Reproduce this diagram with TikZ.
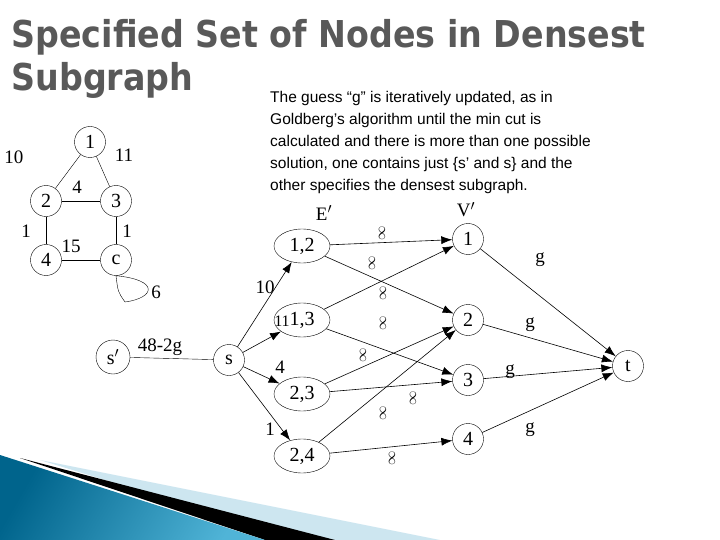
\documentclass[tikz,border=0pt]{standalone}
\usepackage{fontspec}
\setmainfont{Liberation Serif}
\newfontfamily\titlefont{DejaVu Sans Condensed Bold}
\newfontfamily\bodyfont{Liberation Sans}
\usetikzlibrary{arrows.meta,shapes.geometric}
\definecolor{tealA}{RGB}{0,100,140}
\definecolor{tealB}{RGB}{80,180,215}
\definecolor{paleB}{RGB}{205,230,240}
\begin{document}
\begin{tikzpicture}[x=1pt,y=-1pt,
  vtx/.style={draw,circle,inner sep=0pt,minimum size=31pt,font=\fontsize{20}{20}\selectfont},
  evtx/.style={draw,ellipse,inner sep=0pt,minimum width=56pt,minimum height=34pt,font=\fontsize{20}{20}\selectfont},
  lbl/.style={font=\fontsize{19}{19}\selectfont},
  inf/.style={rotate=90,font=\fontsize{15}{15}\selectfont},
  arr/.style={-{Latex[length=11pt,width=8pt]},semithick}]
\useasboundingbox (0,0) rectangle (720,540);
\fill[white] (0,0) rectangle (720,540);
% decoration
\fill[paleB] (40,460) -- (440,540) -- (300,540) -- cycle;
\fill[black] (20,458) -- (335,540) -- (265,540) -- cycle;
\shade[left color=tealA, right color=tealB, shading angle=60] (0,455) -- (265,540) -- (0,540) -- cycle;
% title
\node[anchor=west,text=black!65,font=\titlefont\fontsize{37}{37}\selectfont] at (8,37) {Specified Set of Nodes in Densest};
\node[anchor=west,text=black!65,font=\titlefont\fontsize{37}{37}\selectfont] at (8,80) {Subgraph};
\node[anchor=north west,align=left,font=\bodyfont\fontsize{15.5}{22}\selectfont,inner sep=0pt] at (270,91)
{The guess “g” is iteratively updated, as in\\Goldberg’s algorithm until the min cut is\\calculated and there is more than one possible\\solution, one contains just \{s’ and s\} and the\\other specifies the densest subgraph.};
% left graph
\node[vtx] (a1) at (90,142) {1};
\node[vtx] (a2) at (46,201) {2};
\node[vtx] (a3) at (116,201) {3};
\node[vtx] (a4) at (46,260) {4};
\node[vtx] (ac) at (116,260) {c};
\draw (a1) -- (a2); \draw (a1) -- (a3); \draw (a2) -- (a3);
\draw (a2) -- (a4); \draw (a3) -- (ac); \draw (a4) -- (ac);
\draw (ac.south) .. controls (160,280) and (155,298) .. (125,302) .. controls (118,292) .. (ac.south);
\node[lbl] at (14,157) {10}; \node[lbl] at (124,155) {11};
\node[lbl] at (77,187) {4}; \node[lbl] at (26,231) {1};
\node[lbl] at (127,231) {1}; \node[lbl] at (71,246) {15};
\node[lbl] at (156,292) {6};
% right network
\node[vtx,minimum size=34pt] (sp) at (113,357) {s$'$};
\node[vtx] (s) at (229,360) {s};
\node[evtx] (e12) at (302,246) {1,2};
\node[evtx] (e13) at (302,320) {1,3};
\node[evtx] (e23) at (302,394) {2,3};
\node[evtx] (e24) at (302,456) {2,4};
\node[vtx] (v1) at (468,239) {1};
\node[vtx] (v2) at (468,320) {2};
\node[vtx] (v3) at (468,380) {3};
\node[vtx] (v4) at (468,439) {4};
\node[vtx] (t) at (628,366) {t};
\node[lbl] at (324,213) {E$'$};
\node[lbl] at (466,210) {V$'$};
\draw (sp) -- (s);
\node[lbl] at (160,347) {48-2g};
\foreach \e in {e12,e13,e23,e24} \draw[arr] (s) -- (\e);
\node[lbl] at (265,287) {10}; \node[lbl,font=\fontsize{16}{16}\selectfont] at (282,321) {11};
\node[lbl] at (280,367) {4}; \node[lbl] at (270,429) {1};
\draw[arr] (e12) -- (v1); \draw[arr] (e12) -- (v2);
\draw[arr] (e13) -- (v1); \draw[arr] (e13) -- (v3);
\draw[arr] (e23) -- (v2); \draw[arr] (e23) -- (v3);
\draw[arr] (e24) -- (v2); \draw[arr] (e24) -- (v4);
\foreach \v in {v1,v2,v3,v4} \draw[arr] (\v) -- (t);
\foreach \p in {(382,233),(372,263),(383,293),(383,323),(363,355),(413,398),(383,413),(392,458)}
  \node[inf] at \p {$\infty$};
\node[lbl] at (540,260) {g}; \node[lbl] at (530,325) {g};
\node[lbl] at (510,372) {g}; \node[lbl] at (530,430) {g};
\end{tikzpicture}
\end{document}
